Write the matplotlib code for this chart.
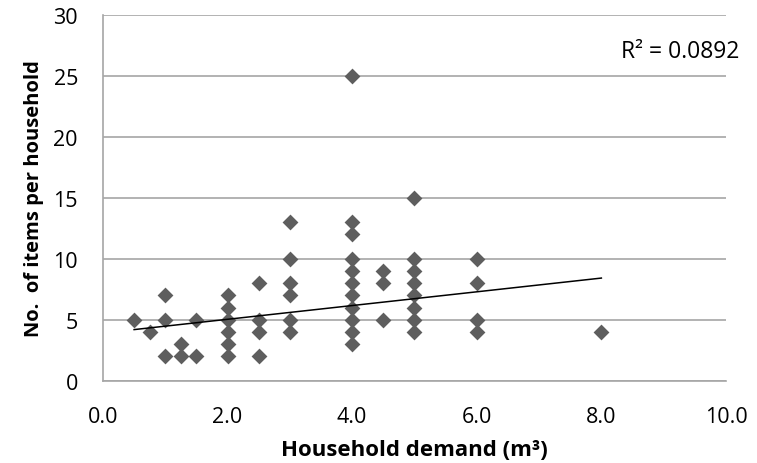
import numpy as np
import matplotlib
matplotlib.use('Agg')
import matplotlib.pyplot as plt

# household demand (m3) vs number of items per household
demand = [0.5, 0.75, 1.0, 1.0, 1.0, 1.25, 1.25, 1.5, 1.5,
          2.0, 2.0, 2.0, 2.0, 2.0, 2.0,
          2.5, 2.5, 2.5, 2.5,
          3.0, 3.0, 3.0, 3.0, 3.0, 3.0,
          4.0, 4.0, 4.0, 4.0, 4.0, 4.0, 4.0, 4.0, 4.0, 4.0, 4.0,
          4.5, 4.5, 4.5,
          5.0, 5.0, 5.0, 5.0, 5.0, 5.0, 5.0, 5.0,
          6.0, 6.0, 6.0, 6.0,
          8.0]
items = [5, 4, 7, 5, 2, 3, 2, 5, 2,
         7, 6, 5, 4, 3, 2,
         8, 5, 4, 2,
         13, 10, 8, 7, 5, 4,
         25, 13, 12, 10, 9, 8, 7, 6, 5, 4, 3,
         9, 8, 5,
         15, 10, 9, 8, 7, 6, 5, 4,
         10, 8, 5, 4,
         4]
# trend line as shown in the original (many points overlap there)
trend_slope = 0.563
trend_intercept = 3.92
r2_label = 'R² = 0.0892'

plt.rcParams['font.family'] = ['Open Sans', 'DejaVu Sans']

fig = plt.figure(figsize=(7.57, 4.64), dpi=100)
ax = fig.add_axes([0.136, 0.177, 0.823, 0.789])

ax.set_axisbelow(True)
ax.grid(axis='y', color='#a6a6a6', linewidth=1.2)
ax.scatter(demand, items, marker='D', s=65, color='#5e5e5e', zorder=3, linewidths=0)

xs = np.array([min(demand), max(demand)])
ax.plot(xs, trend_slope * xs + trend_intercept, color='black', linewidth=1.1, zorder=4)

ax.set_xlim(0, 10)
ax.set_ylim(0, 30)
ax.set_xticks(np.arange(0, 10.1, 2))
ax.set_xticklabels(['%.1f' % v for v in np.arange(0, 10.1, 2)])
ax.set_yticks(np.arange(0, 31, 5))
ax.tick_params(length=0, labelsize=15.5)
ax.tick_params(axis='x', pad=18)
ax.tick_params(axis='y', pad=18)

for s in ['top', 'right']:
    ax.spines[s].set_visible(False)
for s in ['left', 'bottom']:
    ax.spines[s].set_color('#a6a6a6')
    ax.spines[s].set_linewidth(1.2)

ax.set_xlabel('Household demand (m³)', fontsize=16, fontweight='bold', labelpad=9)
ax.set_ylabel('No.  of items per household', fontsize=14.5, fontweight='bold', labelpad=7)

fig.text(0.898, 0.888, r2_label, fontsize=16.5, ha='center', va='center')

fig.savefig('out.png', dpi=100)
